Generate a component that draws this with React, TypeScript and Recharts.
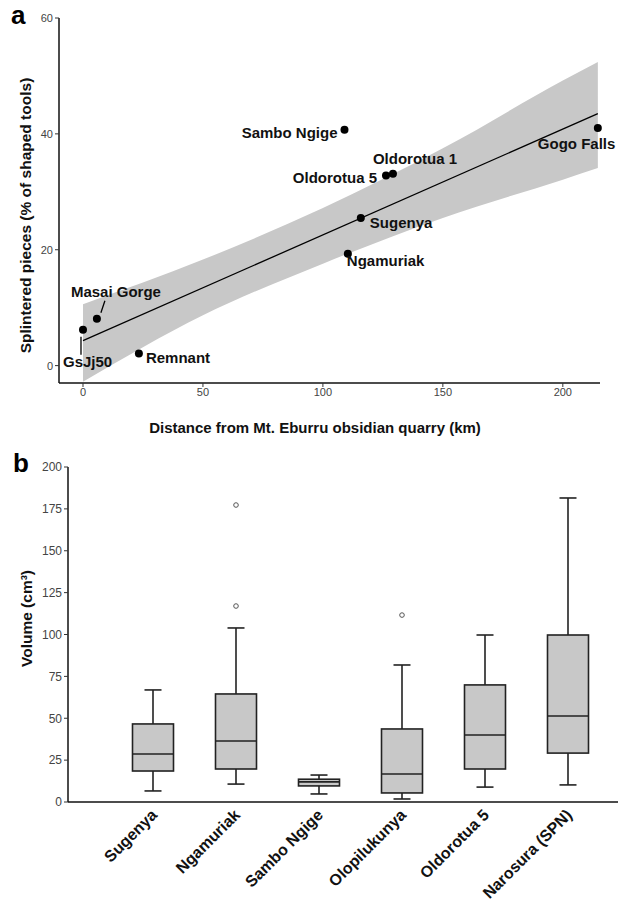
import React from "react";
import { Area, Bar, ComposedChart, Line, Scatter, XAxis, YAxis } from "recharts";

const FONT = "'Liberation Sans', Arial, sans-serif";

// panel a: splintered pieces vs distance from the quarry
const sites = ["GsJj50", "Masai Gorge", "Remnant", "Sambo Ngige", "Ngamuriak", "Sugenya", "Oldorotua 5", "Oldorotua 1", "Gogo Falls"];
const distanceKm = [0, 5.8, 23.3, 109, 110.4, 115.8, 126.3, 129.2, 214.6];
const splinteredPct = [6.2, 8.1, 2.1, 40.7, 19.3, 25.5, 32.8, 33.1, 41];

const fitX = [0, 214.6];
const fitY = [4.3, 43.5];

const bandX = [0, 50, 100, 150, 200, 214.6];
const bandLow = [-2.8, 8.7, 17.6, 25.5, 32.1, 34.1];
const bandHigh = [10.6, 18.3, 27.2, 37.5, 49.2, 52.4];

const distanceTicks = [0, 50, 100, 150, 200];
const pctTicks = [0, 20, 40, 60];

// panel b: volume box plots
const boxSites = ["Sugenya", "Ngamuriak", "Sambo Ngige", "Olopilukunya", "Oldorotua 5", "Narosura (SPN)"];
const whiskerLow = [6.6, 10.7, 4.8, 1.8, 8.9, 10.2];
const q1 = [18.5, 19.7, 9.6, 5.4, 19.7, 29.2];
const median = [28.7, 36.4, 12, 16.7, 40, 51.3];
const q3 = [46.6, 64.5, 13.6, 43.6, 69.9, 99.7];
const whiskerHigh = [66.9, 103.9, 16.1, 81.8, 99.7, 181.5];
const outliers = [[], [117, 177.3], [], [111.6], [], []];
const volumeTicks = [0, 25, 50, 75, 100, 125, 150, 175, 200];

const pointData = sites.map((site, i) => ({ site, x: distanceKm[i], y: splinteredPct[i] }));
const bandData = bandX.map((x, i) => ({ x, band: [bandLow[i], bandHigh[i]] }));
const fitData = fitX.map((x, i) => ({ x, fit: fitY[i] }));

const boxData = boxSites.map((name, i) => ({
  name,
  box: [q1[i], q3[i]],
  low: whiskerLow[i],
  med: median[i],
  high: whiskerHigh[i],
  out: outliers[i],
}));

// where each site name sits relative to its dot
const labelPlacement: Record<string, any> = {
  GsJj50: { dx: -20, dy: 37, anchor: "start", leader: [-2, 7, -2, 25] },
  "Masai Gorge": { dx: -26, dy: -22, anchor: "start", leader: [8, -18, 4, -6] },
  Remnant: { dx: 7, dy: 10, anchor: "start" },
  "Sambo Ngige": { dx: -7, dy: 8, anchor: "end" },
  Ngamuriak: { dx: -1, dy: 12, anchor: "start" },
  Sugenya: { dx: 9, dy: 10, anchor: "start" },
  "Oldorotua 5": { dx: -9, dy: 7, anchor: "end" },
  "Oldorotua 1": { dx: -20, dy: -10, anchor: "start" },
  "Gogo Falls": { dx: -60, dy: 21, anchor: "start" },
};

const PointMark = (props: any) => {
  const { cx, cy, payload } = props;
  const lab = labelPlacement[payload.site];
  return (
    <g>
      {lab.leader && (
        <line
          x1={cx + lab.leader[0]}
          y1={cy + lab.leader[1]}
          x2={cx + lab.leader[2]}
          y2={cy + lab.leader[3]}
          stroke="#000"
          strokeWidth={1.3}
        />
      )}
      <circle cx={cx} cy={cy} r={4} fill="#000" />
      <text
        x={cx + lab.dx}
        y={cy + lab.dy}
        textAnchor={lab.anchor}
        fontFamily={FONT}
        fontWeight="bold"
        fontSize={15}
        fill="#111"
      >
        {payload.site}
      </text>
    </g>
  );
};

const BoxShape = (props: any) => {
  const { x, y, width, height, payload } = props;
  const top = Math.min(y, y + height);
  const bottom = Math.max(y, y + height);
  const [lo, hi] = payload.box;
  const pxPerUnit = (bottom - top) / (hi - lo);
  const toY = (v: number) => bottom - (v - lo) * pxPerUnit;
  const cx = x + width / 2;
  const cap = 8.5;
  const stroke = "#222";
  return (
    <g>
      <line x1={cx} x2={cx} y1={top} y2={toY(payload.high)} stroke={stroke} strokeWidth={1.6} />
      <line x1={cx} x2={cx} y1={bottom} y2={toY(payload.low)} stroke={stroke} strokeWidth={1.6} />
      <line x1={cx - cap} x2={cx + cap} y1={toY(payload.high)} y2={toY(payload.high)} stroke={stroke} strokeWidth={1.6} />
      <line x1={cx - cap} x2={cx + cap} y1={toY(payload.low)} y2={toY(payload.low)} stroke={stroke} strokeWidth={1.6} />
      <rect x={x} y={top} width={width} height={bottom - top} fill="#c8c8c8" stroke={stroke} strokeWidth={1.6} />
      <line x1={x} x2={x + width} y1={toY(payload.med)} y2={toY(payload.med)} stroke={stroke} strokeWidth={1.6} />
      {payload.out.map((v: number, i: number) => (
        <circle key={i} cx={cx} cy={toY(v)} r={2.3} fill="#fff" stroke="#555" strokeWidth={1} />
      ))}
    </g>
  );
};

const CategoryTick = (props: any) => {
  const { x, y, payload } = props;
  return (
    <g transform={`translate(${x + 5},${y + 12})`}>
      <text textAnchor="end" transform="rotate(-45)" fontSize={16} fontWeight="bold" fill="#111" fontFamily={FONT}>
        {payload.value}
      </text>
    </g>
  );
};

const axisLine = { stroke: "#111", strokeWidth: 1.5 };
const tickLine = { stroke: "#333", strokeWidth: 1 };

const App = () => {
  return (
    <div style={{ position: "absolute", left: 0, top: 0, width: 618, height: 910, background: "#fff" }}>
      <div style={{ position: "absolute", left: 0, top: 0 }}>
        <ComposedChart width={618} height={440} margin={{ top: 18, right: 18, left: 29, bottom: 27 }}>
          <XAxis
            type="number"
            dataKey="x"
            domain={[-10, 215.5]}
            ticks={distanceTicks}
            height={30}
            tickSize={4}
            tickMargin={1}
            axisLine={axisLine}
            tickLine={tickLine}
            tick={{ fontSize: 11, fill: "#444", fontFamily: FONT }}
          />
          <YAxis
            type="number"
            domain={[-3, 60]}
            ticks={pctTicks}
            width={30}
            tickSize={4}
            tickMargin={2}
            axisLine={axisLine}
            tickLine={tickLine}
            tick={{ fontSize: 11, fill: "#444", fontFamily: FONT }}
          />
          <Area
            data={bandData}
            dataKey="band"
            type="monotone"
            fill="#c8c8c8"
            fillOpacity={1}
            stroke="none"
            isAnimationActive={false}
          />
          <Line
            data={fitData}
            dataKey="fit"
            type="linear"
            stroke="#000"
            strokeWidth={1.3}
            dot={false}
            isAnimationActive={false}
          />
          <Scatter data={pointData} dataKey="y" shape={PointMark} isAnimationActive={false} />
        </ComposedChart>
      </div>

      <div style={{ position: "absolute", left: 0, top: 440 }}>
        <ComposedChart width={618} height={470} data={boxData} margin={{ top: 27, right: 0, left: 30, bottom: 0 }}>
          <XAxis
            dataKey="name"
            type="category"
            interval={0}
            padding={{ left: 43.5, right: 8.5 }}
            height={108}
            tickSize={0}
            tickMargin={2}
            tickLine={false}
            axisLine={axisLine}
            tick={(p: any) => <CategoryTick {...p} />}
          />
          <YAxis
            type="number"
            domain={[0, 200]}
            ticks={volumeTicks}
            width={38}
            tickSize={4}
            tickMargin={2}
            axisLine={axisLine}
            tickLine={tickLine}
            tick={{ fontSize: 12, fill: "#444", fontFamily: FONT }}
          />
          <Bar dataKey="box" barSize={41} shape={BoxShape} isAnimationActive={false} />
        </ComposedChart>
      </div>

      <svg width={618} height={910} style={{ position: "absolute", left: 0, top: 0, pointerEvents: "none" }}>
        <text x={11} y={24} fontSize={26} fontWeight="bold" fontFamily={FONT} fill="#000">a</text>
        <text x={13} y={472} fontSize={26} fontWeight="bold" fontFamily={FONT} fill="#000">b</text>
        <text
          transform="translate(31,215.5) rotate(-90)"
          textAnchor="middle"
          fontSize={15.5}
          fontWeight="bold"
          fontFamily={FONT}
          fill="#111"
        >
          Splintered pieces (% of shaped tools)
        </text>
        <text x={315} y={433} textAnchor="middle" fontSize={15} fontWeight="bold" fontFamily={FONT} fill="#111">
          Distance from Mt. Eburru obsidian quarry (km)
        </text>
        <text
          transform="translate(31.5,618.5) rotate(-90)"
          textAnchor="middle"
          fontSize={15.5}
          fontWeight="bold"
          fontFamily={FONT}
          fill="#111"
        >
          Volume (cm³)
        </text>
      </svg>
    </div>
  );
};

export default App;
